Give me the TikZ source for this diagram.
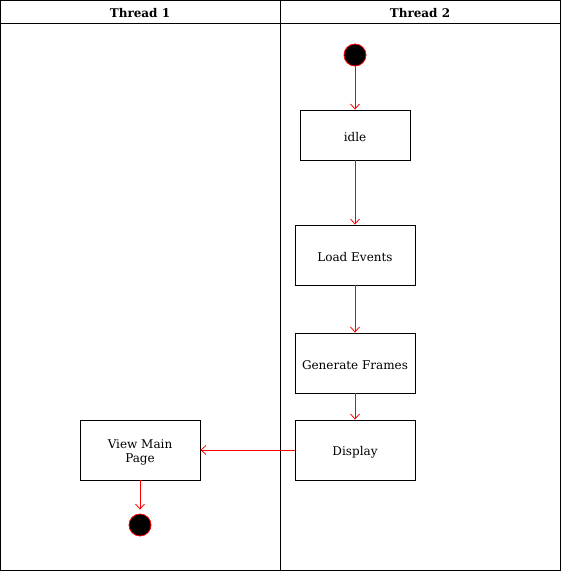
\documentclass[tikz,border=0pt]{standalone}
\usepackage{fontspec}
\setmainfont{DejaVu Serif}
\usetikzlibrary{arrows.meta}
\begin{document}
\begin{tikzpicture}[x=1pt,y=-1pt,
  box/.style={draw=black,line width=0.8pt,fill=white,minimum width=120pt,minimum height=60pt,inner sep=0pt,
    label={[align=center,font=\fontsize{12}{14}\selectfont,yshift=-2pt]center:#1}},
  dot/.style={circle,fill=black,draw=red,line width=0.8pt,minimum size=22pt,inner sep=0pt},
  flow/.style={draw=red,line width=0.8pt,-{Straight Barb[length=5pt,width=9pt]}},
  hdr/.style={font=\fontsize{12}{14}\selectfont\bfseries}]
\useasboundingbox (0,0) rectangle (561,571);
\draw[line width=0.8pt] (0.5,0.5) rectangle (560.5,570.5);
\draw[line width=0.8pt] (0.5,23) -- (560.5,23);
\draw[line width=0.8pt] (280.5,0.5) -- (280.5,570.5);
\node[hdr] (h1) at (140,13.5) {Thread 1};
\node[hdr] (h2) at (420,13.5) {Thread 2};
\node[dot] (start) at (355,55) {};
\node[box={idle},minimum width=110pt,minimum height=50pt] (idle) at (355,135) {};
\node[box={Load Events}] (load) at (355,255) {};
\node[box={Generate Frames}] (gen) at (355,363) {};
\node[box={Display}] (disp) at (355,450) {};
\node[box={View Main\\Page}] (view) at (140,450) {};
\node[dot] (end) at (140,525) {};
\draw[flow] (start) -- (idle);
\draw[flow] (idle) -- (load);
\draw[flow] (load) -- (gen);
\draw[flow] (gen) -- (disp);
\draw[flow] (disp) -- (view);
\draw[flow] (view.south) -- ([yshift=4pt]end.north);
\end{tikzpicture}
\end{document}
